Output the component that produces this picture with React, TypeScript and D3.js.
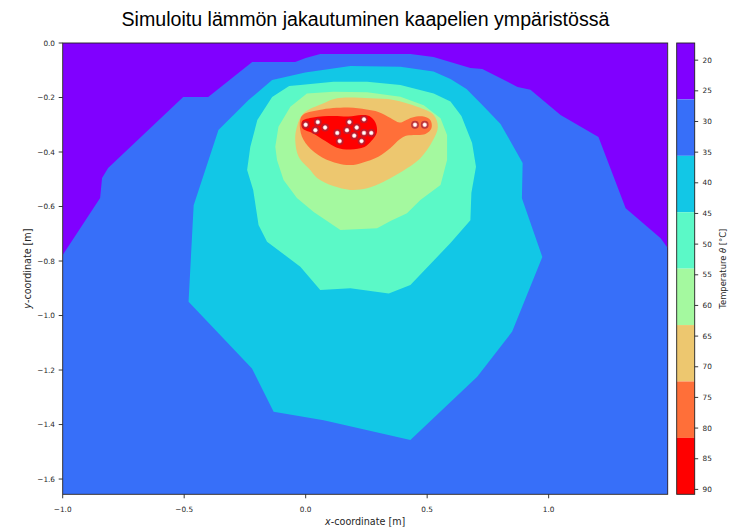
import React from "react";
import * as d3 from "d3";

// Contour levels of the temperature field (°C)
const levels = [17.2, 26.4, 35.6, 44.8, 54.0, 63.2, 72.4, 81.6, 90.8];

// Axis ticks
const xTicks = [-1.0, -0.5, 0.0, 0.5, 1.0];
const yTicks = [0.0, -0.2, -0.4, -0.6, -0.8, -1.0, -1.2, -1.4, -1.6];
const cbarTicks = [20, 25, 30, 35, 40, 45, 50, 55, 60, 65, 70, 75, 80, 85, 90];

// Domain of the computed section (m)
const xDomain: [number, number] = [-1.0, 1.49];
const yDomain: [number, number] = [-1.656, 0.0];

type P = [number, number];

// Regions where the temperature exceeds each inner level, outlined as [x, y] in metres
const above264: P[] = [
  [-1.0, -0.778], [-0.846, -0.569], [-0.838, -0.495], [-0.813, -0.459],
  [-0.504, -0.198], [-0.401, -0.198], [-0.22, -0.07], [-0.043, -0.07],
  [0.0, -0.055], [0.06, -0.04], [0.431, -0.04], [0.526, -0.051],
  [0.678, -0.092], [0.727, -0.095], [0.872, -0.161], [0.925, -0.172],
  [1.049, -0.264], [1.205, -0.345], [1.317, -0.606], [1.461, -0.716],
  [1.49, -0.752], [1.49, -1.656], [-1.0, -1.656],
];

const above356: P[] = [
  [-0.482, -0.949], [-0.461, -0.595], [-0.359, -0.319], [-0.235, -0.209],
  [-0.138, -0.136], [-0.002, -0.108], [0.184, -0.084], [0.39, -0.087],
  [0.526, -0.105], [0.596, -0.132], [0.662, -0.169], [0.728, -0.228],
  [0.802, -0.297], [0.893, -0.44], [0.89, -0.57], [0.974, -0.785],
  [0.85, -1.059], [0.706, -1.225], [0.431, -1.457], [0.074, -1.384],
  [-0.132, -1.353], [-0.221, -1.194],
];

const above448: P[] = [
  [-0.241, -0.466], [-0.228, -0.382], [-0.199, -0.283], [-0.138, -0.198],
  [-0.068, -0.158], [-0.022, -0.154], [0.114, -0.142], [0.253, -0.142],
  [0.39, -0.154], [0.527, -0.185], [0.596, -0.215], [0.641, -0.268],
  [0.685, -0.367], [0.701, -0.454], [0.682, -0.55], [0.678, -0.65],
  [0.596, -0.734], [0.431, -0.888], [0.342, -0.919], [0.184, -0.9],
  [0.06, -0.906], [-0.022, -0.821], [-0.159, -0.729], [-0.194, -0.668],
  [-0.216, -0.539],
];

const above540: P[] = [
  [-0.063, -0.234], [0.005, -0.185], [0.114, -0.179], [0.253, -0.181],
  [0.39, -0.197], [0.486, -0.228], [0.555, -0.276], [0.582, -0.338],
  [0.582, -0.429], [0.555, -0.521], [0.472, -0.576], [0.417, -0.625],
  [0.349, -0.653], [0.294, -0.68], [0.143, -0.686], [0.033, -0.62],
  [-0.036, -0.569], [-0.091, -0.503], [-0.118, -0.429], [-0.125, -0.381],
  [-0.112, -0.307],
];

const above632: P[] = [
  [-0.009, -0.258], [0.074, -0.221], [0.129, -0.203], [0.266, -0.203],
  [0.362, -0.209], [0.459, -0.234], [0.527, -0.264], [0.544, -0.308],
  [0.522, -0.36], [0.472, -0.423], [0.417, -0.46], [0.321, -0.509],
  [0.253, -0.533], [0.184, -0.539], [0.114, -0.525], [0.047, -0.495],
  [0.019, -0.466], [-0.029, -0.417], [-0.043, -0.356], [-0.036, -0.307],
];

const above724: P[] = [
  [-0.016, -0.268], [0.056, -0.246], [0.176, -0.237], [0.25, -0.244],
  [0.299, -0.253], [0.349, -0.275], [0.386, -0.292], [0.41, -0.284],
  [0.439, -0.273], [0.485, -0.27], [0.513, -0.283], [0.518, -0.312],
  [0.493, -0.334], [0.443, -0.338], [0.41, -0.341], [0.386, -0.354],
  [0.349, -0.385], [0.299, -0.417], [0.233, -0.439], [0.184, -0.448],
  [0.134, -0.442], [0.068, -0.42], [0.009, -0.378], [-0.02, -0.33],
];

const above816: P[] = [
  [-0.014, -0.286], [0.031, -0.273], [0.114, -0.268], [0.176, -0.27],
  [0.229, -0.264], [0.262, -0.268], [0.287, -0.292], [0.293, -0.328],
  [0.27, -0.36], [0.242, -0.382], [0.184, -0.391], [0.126, -0.383],
  [0.081, -0.36], [0.031, -0.332], [-0.014, -0.312],
];

// Cable positions (m)
const cableX = [0.0, 0.05, 0.04, 0.08, 0.13, 0.14, 0.18, 0.17, 0.21, 0.2, 0.24, 0.24, 0.23, 0.27, 0.45, 0.49];
const cableY = [-0.3, -0.29, -0.32, -0.31, -0.33, -0.36, -0.29, -0.32, -0.31, -0.34, -0.28, -0.33, -0.36, -0.33, -0.3, -0.3];

const regions = [above264, above356, above448, above540, above632, above724, above816];

// matplotlib "rainbow" colormap
function rainbow(t: number): string {
  const c = (v: number) => Math.max(0, Math.min(1, v));
  const r = c(Math.abs(2 * t - 0.5));
  const g = c(Math.sin(Math.PI * t));
  const b = c(Math.cos((Math.PI * t) / 2));
  return d3.rgb(r * 255, g * 255, b * 255).formatHex();
}

const W = 731;
const H = 532;
const plot = { left: 62.7, right: 667.7, top: 43, bottom: 494.3 };
const cbar = { left: 676.7, right: 694.7 };

const tickFont = "'DejaVu Sans', sans-serif";
const fmt = (v: number) => d3.format(".1f")(v).replace("-", "\u2212");

export default function App() {
  const x = d3.scaleLinear().domain(xDomain).range([plot.left, plot.right]);
  const y = d3.scaleLinear().domain(yDomain).range([plot.bottom, plot.top]);
  const cy = d3
    .scaleLinear()
    .domain([levels[0], levels[levels.length - 1]])
    .range([plot.top, plot.bottom]);

  const nBands = levels.length - 1;
  const bandColors = d3.range(nBands).map((i) => rainbow(i / (nBands - 1)));

  const path = (pts: P[], smooth: boolean) =>
    d3
      .line<P>()
      .x((d) => x(d[0]))
      .y((d) => y(d[1]))
      .curve(smooth ? d3.curveCatmullRomClosed.alpha(0.5) : d3.curveLinearClosed)(pts) || "";

  const midX = (plot.left + plot.right) / 2;
  const midY = (plot.top + plot.bottom) / 2;

  return (
    <svg
      width={W}
      height={H}
      style={{ position: "absolute", left: 0, top: 0, background: "#fff" }}
    >
      <defs>
        <clipPath id="plotClip">
          <rect x={plot.left} y={plot.top} width={plot.right - plot.left} height={plot.bottom - plot.top} />
        </clipPath>
      </defs>

      <text
        x={365.5}
        y={26}
        textAnchor="middle"
        fontFamily="'Liberation Sans', Arial, sans-serif"
        fontSize={19.6}
        fill="#000"
      >
        Simuloitu lämmön jakautuminen kaapelien ympäristössä
      </text>

      {/* filled contours */}
      <g clipPath="url(#plotClip)">
        <rect
          x={plot.left}
          y={plot.top}
          width={plot.right - plot.left}
          height={plot.bottom - plot.top}
          fill={bandColors[0]}
        />
        {regions.map((pts, i) => (
          <path key={i} d={path(pts, i >= 4)} fill={bandColors[i + 1]} />
        ))}
        {cableX.map((cx, i) => (
          <g key={i}>
            <circle cx={x(cx)} cy={y(cableY[i])} r={3.9} fill="#a8243a" fillOpacity={0.75} />
            <circle cx={x(cx)} cy={y(cableY[i])} r={1.9} fill="#fff" stroke="#ffc8c8" strokeWidth={0.6} />
          </g>
        ))}
      </g>

      {/* frame */}
      <rect
        x={plot.left}
        y={plot.top}
        width={plot.right - plot.left}
        height={plot.bottom - plot.top}
        fill="none"
        stroke="#222"
        strokeWidth={0.9}
      />

      {/* x axis */}
      {xTicks.map((t) => (
        <g key={t}>
          <line x1={x(t)} x2={x(t)} y1={plot.bottom} y2={plot.bottom + 4} stroke="#222" strokeWidth={0.9} />
          <text x={x(t)} y={511.5} textAnchor="middle" fontFamily={tickFont} fontSize={7.3} fill="#262626">
            {fmt(t)}
          </text>
        </g>
      ))}
      <text x={midX} y={525} textAnchor="middle" fontFamily={tickFont} fontSize={9.6} fill="#262626">
        <tspan fontStyle="italic">x</tspan>-coordinate [m]
      </text>

      {/* y axis */}
      {yTicks.map((t) => (
        <g key={t}>
          <line x1={plot.left - 4} x2={plot.left} y1={y(t)} y2={y(t)} stroke="#222" strokeWidth={0.9} />
          <text x={55} y={y(t)} dy="0.36em" textAnchor="end" fontFamily={tickFont} fontSize={7.3} fill="#262626">
            {fmt(t)}
          </text>
        </g>
      ))}
      <text
        transform={`translate(30.5, ${midY}) rotate(-90)`}
        textAnchor="middle"
        fontFamily={tickFont}
        fontSize={9.6}
        fill="#262626"
      >
        <tspan fontStyle="italic">y</tspan>-coordinate [m]
      </text>

      {/* colorbar */}
      {bandColors.map((c, i) => (
        <rect
          key={i}
          x={cbar.left}
          y={cy(levels[i])}
          width={cbar.right - cbar.left}
          height={cy(levels[i + 1]) - cy(levels[i])}
          fill={c}
        />
      ))}
      <rect
        x={cbar.left}
        y={plot.top}
        width={cbar.right - cbar.left}
        height={plot.bottom - plot.top}
        fill="none"
        stroke="#222"
        strokeWidth={0.9}
      />
      {cbarTicks.map((t) => (
        <g key={t}>
          <line x1={cbar.right} x2={cbar.right + 3.5} y1={cy(t)} y2={cy(t)} stroke="#222" strokeWidth={0.9} />
          <text x={702.5} y={cy(t)} dy="0.36em" fontFamily={tickFont} fontSize={7.3} fill="#262626">
            {t}
          </text>
        </g>
      ))}
      <text
        transform={`translate(725.5, ${midY}) rotate(-90)`}
        textAnchor="middle"
        fontFamily={tickFont}
        fontSize={8.4}
        fill="#262626"
      >
        Temperature <tspan fontStyle="italic">θ</tspan> [°C]
      </text>
    </svg>
  );
}
